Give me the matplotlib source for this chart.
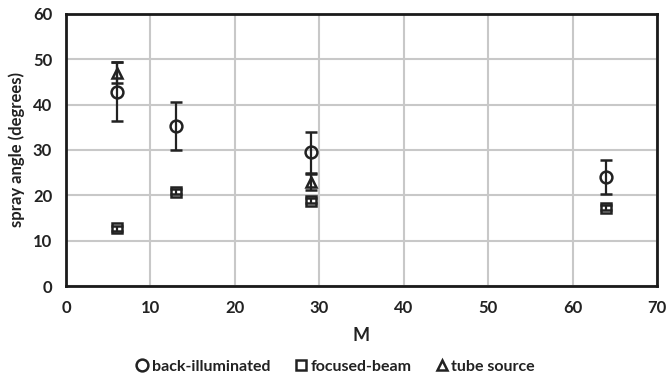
import numpy as np
import matplotlib.pyplot as plt

plt.rcParams['font.family'] = ['Lato', 'DejaVu Sans']

# data
m_back = [6, 13, 29, 64]
angle_back = [42.8, 35.3, 29.5, 24.0]
err_back = [6.5, 5.3, 4.5, 3.7]

m_focus = [6, 13, 29, 64]
angle_focus = [12.7, 20.8, 18.8, 17.3]
err_focus = [0.6, 0.5, 0.6, 0.5]

m_tube = [6, 29]
angle_tube = [47.0, 23.0]
err_tube = [2.3, 1.8]

fig = plt.figure(figsize=(6.67, 3.84), dpi=100)
ax = fig.add_axes([0.099, 0.255, 0.886, 0.709])

style = dict(color='#222222', mfc='none', mew=1.8, ls='none', elinewidth=1.6,
             capsize=4, capthick=1.6)
ax.errorbar(m_back, angle_back, yerr=err_back, fmt='o', ms=8.5,
            label='back-illuminated', **style)
ax.errorbar(m_focus, angle_focus, yerr=err_focus, fmt='s', ms=7.5,
            label='focused-beam', **style)
ax.errorbar(m_tube, angle_tube, yerr=err_tube, fmt='^', ms=7.5,
            label='tube source', **style)

ax.set_xlim(0, 70)
ax.set_ylim(0, 60)
ax.set_xticks(np.arange(0, 71, 10))
ax.set_yticks(np.arange(0, 61, 10))
ax.grid(color='#c8c8c8', linewidth=1.5)
ax.set_axisbelow(True)
for s in ax.spines.values():
    s.set_linewidth(2)
    s.set_color('#1a1a1a')
ax.tick_params(length=0, labelsize=12, pad=10, labelcolor='#222222')
for lab in ax.get_xticklabels() + ax.get_yticklabels():
    lab.set_fontweight('bold')

ax.set_xlabel('M', fontsize=13, fontweight='bold', color='#222222', labelpad=8)
ax.set_ylabel('spray angle (degrees)', fontsize=12, fontweight='bold',
              color='#222222', labelpad=6)

handles, labels = ax.get_legend_handles_labels()
handles = [h[0] for h in handles]
leg = fig.legend(handles, labels, loc='center', bbox_to_anchor=(0.504, 0.045),
                 ncol=3, frameon=False, handlelength=0.6, handletextpad=0.3,
                 columnspacing=1.6, prop={'size': 11.5, 'weight': 'bold'})
for t in leg.get_texts():
    t.set_color('#222222')

fig.savefig('out.png', dpi=100)
